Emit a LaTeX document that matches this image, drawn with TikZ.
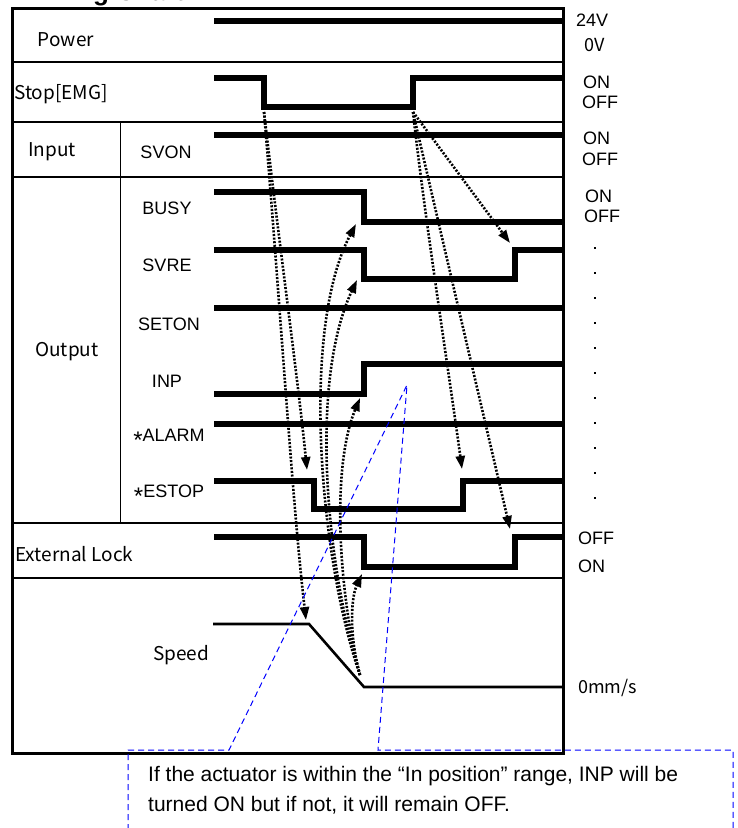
\documentclass[tikz,border=0pt]{standalone}
\usepackage{fontspec}
\setmainfont{Liberation Sans}
\newfontfamily\cjk{Noto Sans CJK JP}
\usetikzlibrary{arrows.meta}

\begin{document}
\begin{tikzpicture}[x=1pt,y=-1pt,
  frm/.style={line width=2.4pt},
  sig/.style={line width=6pt},
  a/.style={-{Triangle[length=13pt,width=9pt]},line width=2.6pt,dash pattern=on 2pt off 1.6pt},
  lbl/.style={font=\fontsize{18}{20}\selectfont,inner sep=0pt},
  glbl/.style={font=\cjk\fontsize{19}{21}\selectfont,inner sep=0pt},
  st/.style={font=\fontsize{18}{20}\selectfont,anchor=west,inner sep=0pt},
  callout/.style={blue,line width=1pt,dash pattern=on 6pt off 4pt}]

  \useasboundingbox (0,0) rectangle (737,828);

  \node[anchor=base west,font=\bfseries\fontsize{26}{30}\selectfont,inner sep=0pt] (title) at (24,0) {Timing Chart};

  % frame
  \draw[line width=3pt] (12,8) rectangle (563,753);
  \foreach \yy in {62,122,177,523,578}
    \draw[frm] (12,\yy) -- (563,\yy);
  \draw[line width=1pt] (120,122) -- (120,523);

  % signal names
  \node[glbl] (power) at (66,40) {Power};
  \node[glbl,anchor=west] (stop) at (14,94) {Stop[EMG]};
  \node[glbl] (input) at (52,152) {Input};
  \node[lbl] (svon) at (166,152) {SVON};
  \node[glbl] (output) at (67,352) {Output};
  \node[lbl] (busy) at (167,208) {BUSY};
  \node[lbl] (svre) at (167,265) {SVRE};
  \node[lbl] (seton) at (169,324) {SETON};
  \node[lbl] (inp) at (167,381) {INP};
  \node[lbl] (alarm) at (169,439) {\raisebox{-7pt}{\fontsize{24}{24}\selectfont *}ALARM};
  \node[lbl] (estop) at (169,495) {\raisebox{-7pt}{\fontsize{24}{24}\selectfont *}ESTOP};
  \node[glbl,anchor=west] (lock) at (15,554) {External Lock};
  \node[glbl] (speed) at (181,655) {Speed};

  % waveforms
  \draw[sig] (214,21) -- (563,21);
  \draw[sig] (214,78) -| (264,107) -| (413,78) -- (563,78);
  \draw[sig] (214,135) -- (563,135);
  \draw[sig] (214,192) -| (364,222) -- (563,222);
  \draw[sig] (214,250) -| (364,279) -| (515,250) -- (563,250);
  \draw[sig] (214,308) -- (563,308);
  \draw[sig] (214,394) -| (364,364) -- (563,364);
  \draw[sig] (214,424) -- (563,424);
  \draw[sig] (214,481) -| (314,509) -| (463,481) -- (563,481);
  \draw[sig] (214,537) -| (364,567) -| (515,537) -- (563,537);
  \draw[line width=2.6pt] (213,624) -- (309,624) -- (364,687) -- (563,687);

  % levels
  \node[st] (v24) at (576,20) {24V};
  \node[st,font=\cjk\fontsize{18}{20}\selectfont] (v0) at (584,45) {0V};
  \node[st] (stopon) at (583,82) {ON};
  \node[st] (stopoff) at (582,102) {OFF};
  \node[st] (svonon) at (583,138) {ON};
  \node[st] (svonoff) at (582,159) {OFF};
  \node[st] (busyon) at (585,196) {ON};
  \node[st] (busyoff) at (584,216) {OFF};
  \foreach \k in {0,...,10}
    \fill (593.5,246.5+25*\k) rectangle +(2.2,2.2);
  \node[st] (lockoff) at (578,538) {OFF};
  \node[st] (lockon) at (578,566) {ON};
  \node[st,font=\cjk\fontsize{18}{20}\selectfont] (zero) at (578,688) {0mm/s};

  % edges
  \coordinate (stopfall) at (264,112);
  \coordinate (stoprise) at (413,112);
  \coordinate (stopped) at (360,675);
  \coordinate (estopfall) at (307,470);
  \coordinate (decel) at (306,620);
  \coordinate (busyfall) at (356,224);
  \coordinate (svrefall) at (357,280);
  \coordinate (inprise) at (360,398);
  \coordinate (lockfall) at (362,574);
  \coordinate (svrerise) at (510,243);
  \coordinate (estoprise) at (462,469);
  \coordinate (lockrise) at (510,529);

  \draw[a] (stopfall) .. controls (280,250) and (298,380) .. (estopfall);
  \draw[a] (stopfall) .. controls (280,300) and (292,500) .. (decel);
  \draw[a] (stopped) .. controls (320,560) and (300,330) .. (busyfall);
  \draw[a] (stopped) .. controls (325,560) and (310,380) .. (svrefall);
  \draw[a] (stopped) .. controls (340,600) and (330,470) .. (inprise);
  \draw[a] (stopped) .. controls (350,640) and (350,600) .. (lockfall);
  \draw[a] (stoprise) -- (svrerise);
  \draw[a] (stoprise) .. controls (425,220) and (450,380) .. (estoprise);
  \draw[a] (stoprise) .. controls (440,230) and (480,400) .. (lockrise);

  % note
  \draw[callout] (128,840) -- (128,750) -- (229,750) -- (407,385) -- (378,750) -- (733,750) -- (733,840);
  \node[anchor=west,align=left,font=\fontsize{21}{30}\selectfont,inner sep=0pt] (note) at (148,790)
    {If the actuator is within the “In position” range, INP will be\\turned ON but if not, it will remain OFF.};
\end{tikzpicture}
\end{document}
